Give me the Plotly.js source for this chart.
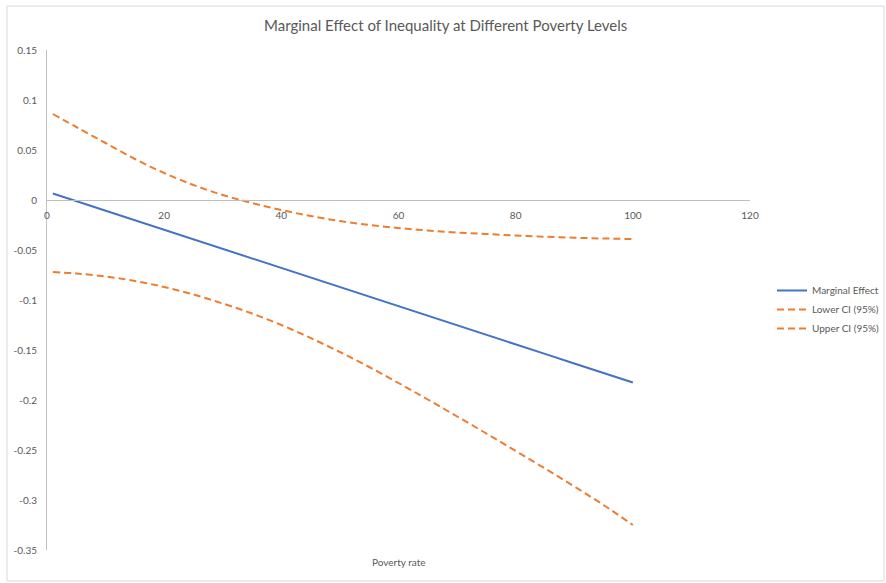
<!DOCTYPE html>
<html>
<head>
<meta charset="utf-8">
<script src="https://cdn.plot.ly/plotly-3.0.1.min.js"></script>
<style>
html,body{margin:0;padding:0;background:#fff;}
#chart{width:886px;height:583px;}
</style>
</head>
<body>
<div id="chart"></div>
<script>
// Poverty rate (x)
const povertyRate = [1, 5, 10, 15, 20, 25, 30, 35, 40, 45, 50, 55, 60, 65, 70, 75, 80, 85, 90, 95, 100];
// Marginal effect of inequality
const marginalEffect = [0.0065, -0.0011, -0.0107, -0.0202, -0.0298, -0.0393, -0.0489, -0.0584, -0.068, -0.0775, -0.0871, -0.0966, -0.1062, -0.1157, -0.1253, -0.1348, -0.1444, -0.1539, -0.1635, -0.173, -0.1825];
// Lower 95% CI
const lowerCI = [-0.072, -0.0735, -0.0765, -0.081, -0.087, -0.0945, -0.1035, -0.1135, -0.125, -0.138, -0.152, -0.167, -0.183, -0.1995, -0.2165, -0.2335, -0.251, -0.2685, -0.2865, -0.305, -0.325];
// Upper 95% CI
const upperCI = [0.086, 0.073, 0.057, 0.041, 0.027, 0.015, 0.005, -0.003, -0.010, -0.016, -0.021, -0.025, -0.028, -0.0305, -0.0325, -0.034, -0.0355, -0.0367, -0.0377, -0.0385, -0.039];

const seriesNames = ['Marginal Effect', 'Lower CI (95%)', 'Upper CI (95%)'];
const yTickVals = [0.15, 0.1, 0.05, 0, -0.05, -0.1, -0.15, -0.2, -0.25, -0.3, -0.35];
const yTickText = ['0.15', '0.1', '0.05', '0', '-0.05', '-0.1', '-0.15', '-0.2', '-0.25', '-0.3', '-0.35'];
const xTickVals = [0, 20, 40, 60, 80, 100, 120];
const xTickText = ['0', '20', '40', '60', '80', '100', '120'];

const FONT = 'Lato, "Open Sans", sans-serif';
const GREY = '#595959';
const BLUE = '#4472C4';
const ORANGE = '#ED7D31';

const traces = [
  {x: povertyRate, y: marginalEffect, name: seriesNames[0], mode: 'lines', type: 'scatter',
   line: {color: BLUE, width: 2}},
  {x: povertyRate, y: lowerCI, name: seriesNames[1], mode: 'lines', type: 'scatter',
   line: {color: ORANGE, width: 2, dash: '7px,4px', shape: 'spline', smoothing: 1}},
  {x: povertyRate, y: upperCI, name: seriesNames[2], mode: 'lines', type: 'scatter',
   line: {color: ORANGE, width: 2, dash: '7px,4px', shape: 'spline', smoothing: 1}}
];

const W = 886, H = 583;
const L = 47, R = 136, T = 50, B = 33;
const pw = W - L - R, ph = H - T - B;
function px2x(px){ return (px - L) / pw; }
function py2y(py){ return (H - B - py) / ph; }

const layout = {
  width: W, height: H,
  margin: {l: L, r: R, t: T, b: B, pad: 0, autoexpand: false},
  paper_bgcolor: '#ffffff',
  plot_bgcolor: '#ffffff',
  font: {family: FONT, color: GREY, size: 10},
  title: {text: 'Marginal Effect of Inequality at Different Poverty Levels',
          x: 0.503, xref: 'container', xanchor: 'center',
          y: 1 - 26 / H, yref: 'container', yanchor: 'middle',
          font: {family: FONT, size: 15, color: GREY}},
  xaxis: {
    range: [0, 120], anchor: 'free', position: 0.7,
    tickvals: xTickVals, ticktext: xTickText,
    showgrid: false, zeroline: false,
    showline: true, linecolor: '#bfbfbf', linewidth: 1,
    ticks: '', ticklabelstandoff: 6,
    tickfont: {family: FONT, size: 10, color: GREY}
  },
  yaxis: {
    range: [-0.35, 0.15],
    tickvals: yTickVals, ticktext: yTickText,
    showgrid: false, zeroline: false,
    showline: true, linecolor: '#bfbfbf', linewidth: 1,
    ticks: '', ticklabelstandoff: 7,
    tickfont: {family: FONT, size: 10, color: GREY}
  },
  showlegend: true,
  legend: {x: px2x(772), xanchor: 'left', y: py2y(276), yanchor: 'top',
           font: {family: FONT, size: 10, color: GREY}, bgcolor: 'rgba(0,0,0,0)',
           tracegroupgap: 0},
  annotations: [
    {text: 'Poverty rate', xref: 'paper', yref: 'paper', x: 0.5, y: py2y(562),
     xanchor: 'center', yanchor: 'middle', showarrow: false,
     font: {family: FONT, size: 10, color: GREY}}
  ],
  shapes: [
    {type: 'rect', xref: 'paper', yref: 'paper',
     x0: px2x(7), x1: px2x(884), y0: py2y(581), y1: py2y(6),
     line: {color: '#d9d9d9', width: 1}, fillcolor: 'rgba(0,0,0,0)', layer: 'below'}
  ]
};

Plotly.newPlot('chart', traces, layout, {displayModeBar: false, staticPlot: true});
</script>
</body>
</html>
